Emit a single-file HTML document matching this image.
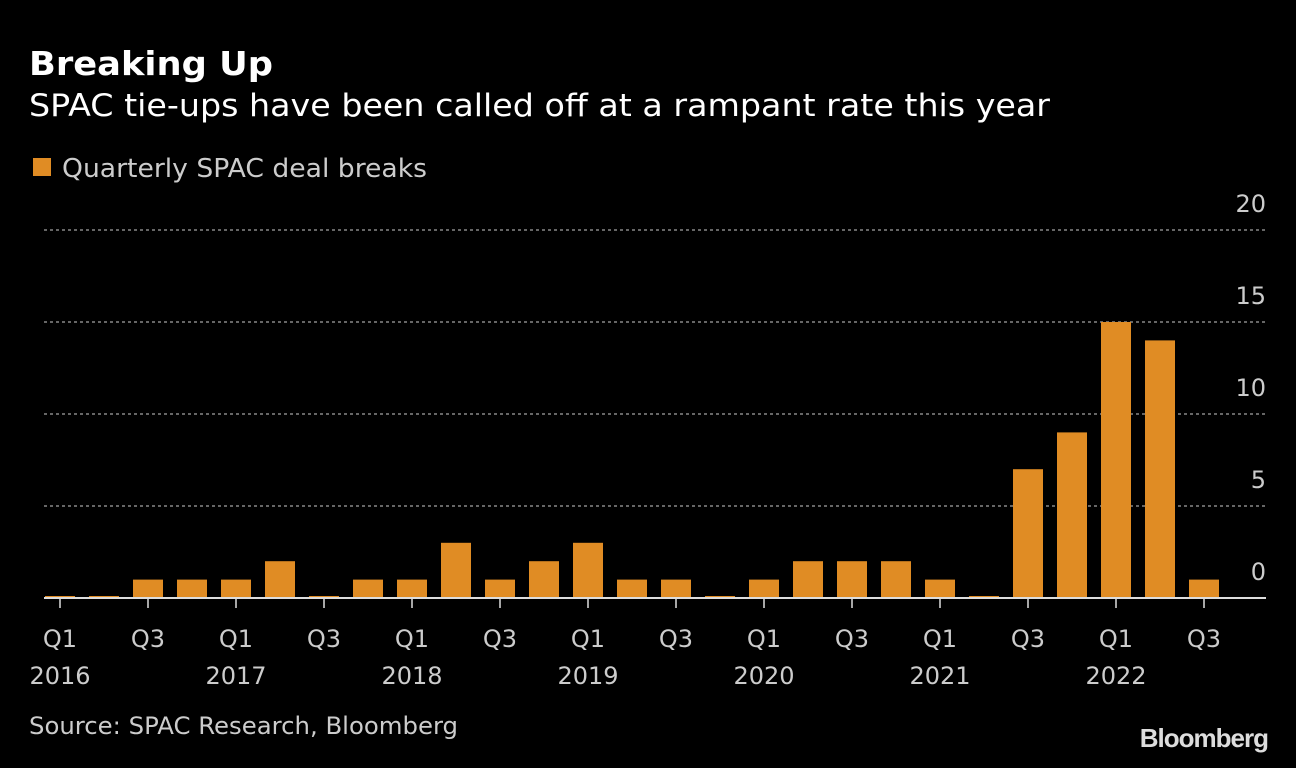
<!DOCTYPE html>
<html><head><meta charset="utf-8"><style>
body{margin:0;background:#000;width:1296px;height:764px;overflow:hidden;font-family:"DejaVu Sans","Liberation Sans",sans-serif}
</style></head><body>
<svg width="1296" height="764" font-family="DejaVu Sans, Liberation Sans, sans-serif">
<text x="29" y="75" fill="#fff" font-size="33" font-weight="bold" textLength="244" lengthAdjust="spacingAndGlyphs">Breaking Up</text>
<text x="29" y="116" fill="#fff" font-size="31" textLength="1021" lengthAdjust="spacingAndGlyphs">SPAC tie-ups have been called off at a rampant rate this year</text>
<rect x="33" y="158" width="18" height="18" fill="#e08c24"/>
<text x="62" y="177" fill="#ccc" font-size="26" textLength="365" lengthAdjust="spacingAndGlyphs">Quarterly SPAC deal breaks</text>
<g id="grid"></g><g id="bars"></g><g id="xl"></g>
<line x1="44" x2="1266" y1="598" y2="598" stroke="#ddd" stroke-width="2"/>
<text x="29" y="734" fill="#ccc" font-size="24" textLength="429" lengthAdjust="spacingAndGlyphs">Source: SPAC Research, Bloomberg</text>
<text x="1268" y="747" fill="#ddd" font-size="26" font-weight="bold" text-anchor="end" letter-spacing="-1" font-family="Liberation Sans, sans-serif">Bloomberg</text>
</svg>
<script>
const values=[0,0,1,1,1,2,0,1,1,3,1,2,3,1,1,0,1,2,2,2,1,0,7,9,15,14,1];
const yTicks=[0,5,10,15,20];
const years=["2016","2017","2018","2019","2020","2021","2022"];
const NS="http://www.w3.org/2000/svg";
const y=v=>598-v*18.4, x=i=>60+i*44;
function mk(t,a,p){const e=document.createElementNS(NS,t);for(const k in a)e.setAttribute(k,a[k]);document.getElementById(p).appendChild(e);return e;}
yTicks.forEach(t=>{
 if(t>0){const l=mk('line',{x1:44,x2:1266,y1:y(t),y2:y(t),stroke:'#888','stroke-dasharray':'3,3','stroke-width':1.5},'grid');
 
 }
 const tx=mk('text',{x:1266,y:y(t)-18,fill:'#ccc','font-size':24,'text-anchor':'end'},'grid');tx.textContent=t;
 
 
});
values.forEach((v,i)=>{
 const h=Math.max(v*18.4,2);
 const r=mk('rect',{x:x(i)-15,y:598-h,width:30,height:h,fill:'#e08c24'},'bars');
 
 
 if(i%2===0){
  const tk=mk('line',{x1:x(i),x2:x(i),y1:598,y2:608,stroke:'#ddd','stroke-width':1.5},'xl');
  
  
  const q=mk('text',{x:x(i),y:647,fill:'#ccc','font-size':24,'text-anchor':'middle'},'xl');q.textContent=i%4===0?'Q1':'Q3';
  
  
  if(i%4===0){const yr=mk('text',{x:x(i),y:684,fill:'#ccc','font-size':24,'text-anchor':'middle'},'xl');yr.textContent=years[i/4];
  
  }
 }
});
</script>
</body></html>
